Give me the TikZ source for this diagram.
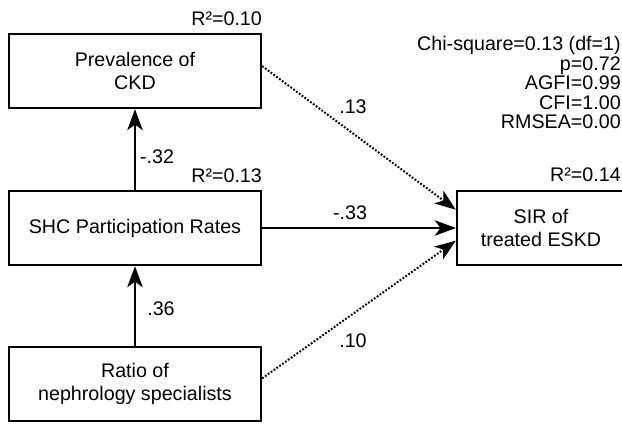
\documentclass[tikz,border=0pt]{standalone}
\usepackage{fontspec}
\setmainfont{Liberation Sans}
\usetikzlibrary{arrows.meta,positioning}

\tikzset{
  varbox/.style={draw, line width=1.6pt, rectangle, align=center, minimum height=1.85cm, font=\fontsize{14}{16.3}\selectfont},
  rsq/.style={anchor=south east, inner sep=0pt, font=\fontsize{14}{16}\selectfont},
  coef/.style={inner sep=0pt, font=\fontsize{14}{16}\selectfont},
  path/.style={line width=1.4pt, -{Stealth[length=15pt,width=11pt,inset=4pt]}},
  weak/.style={path, dash pattern=on 1.3pt off 1.2pt}
}

\begin{document}
\begin{tikzpicture}[x=0.025cm, y=-0.025cm]
  \clip (0,0) rectangle (622,423);
  % Variables
  \node[varbox, minimum width=6.3cm] (prev) at (135,71) {Prevalence of\\CKD};
  \node[varbox, minimum width=6.3cm] (shc) at (135,228) {SHC Participation Rates};
  \node[varbox, minimum width=6.3cm] (ratio) at (135,384) {Ratio of\\nephrology specialists};
  \node[varbox, minimum width=4.2cm] (sir) at (541,228) {SIR of\\treated ESKD};
  % R squared
  \node[rsq] (rprev) at ([yshift=5pt]prev.north east) {R²=0.10};
  \node[rsq] (rshc) at ([yshift=5pt]shc.north east) {R²=0.13};
  \node[rsq] (rsir) at (621,182) {R²=0.14};
  % Fit indices
  \node[anchor=north east, inner sep=0pt, align=right, font=\fontsize{14}{13.9}\selectfont] (fit) at (621,36)
    {Chi-square=0.13 (df=1)\\p=0.72\\AGFI=0.99\\CFI=1.00\\RMSEA=0.00};
  % Paths
  \draw[path] (shc) -- (prev);
  \draw[path] (ratio) -- (shc);
  \draw[path] (shc) -- (sir);
  \draw[weak] ([yshift=3.5pt]prev.east) -- ([yshift=13pt]sir.west);
  \draw[weak] ([yshift=4pt]ratio.east) -- ([yshift=-9pt]sir.west);
  % Coefficients
  \node[coef] (c1) at (157,157) {-.32};
  \node[coef] (c2) at (161,309) {.36};
  \node[coef] (c3) at (350,213) {-.33};
  \node[coef] (c4) at (353,107) {.13};
  \node[coef] (c5) at (353,341) {.10};
\end{tikzpicture}
\end{document}
